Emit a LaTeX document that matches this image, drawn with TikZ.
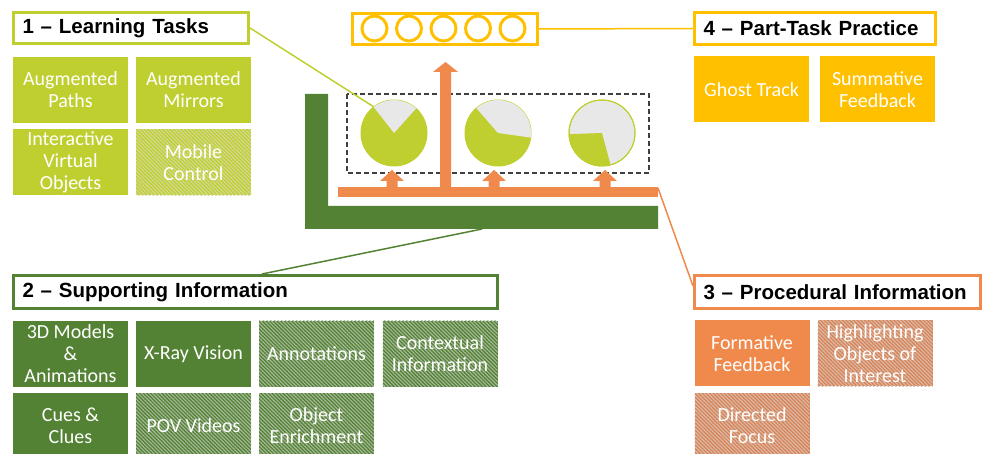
\documentclass[tikz,border=0pt]{standalone}
\usepackage{fontspec}
\setmainfont{Liberation Sans}
\newfontfamily\carlito{Carlito}
\usetikzlibrary{patterns.meta,calc}
\definecolor{cLime}{RGB}{192,207,48}
\definecolor{cDark}{RGB}{84,130,53}
\definecolor{cOrange}{RGB}{240,138,76}
\definecolor{cOrangeH}{RGB}{214,132,88}
\definecolor{cGold}{RGB}{255,192,0}
\definecolor{cGrey}{RGB}{232,232,232}
\definecolor{cDash}{RGB}{64,64,64}
\tikzset{
  box/.style={fill=#1, minimum width=115pt, minimum height=66pt, inner sep=0pt,
    align=center, text=white, font=\carlito\fontsize{20}{22}\selectfont},
  hatchbox/.style={box=#1, postaction={pattern={Lines[angle=-45,distance=2.6pt,line width=1.1pt]},
    pattern color=#1!45!white!93!black}},
  hdr/.style={draw=#1, line width=3pt, fill=white, inner xsep=9pt, inner ysep=0pt,
    align=left, text=black, font=\bfseries\fontsize{20.5}{24}\selectfont},
  link/.style={draw=#1, line width=1.5pt},
  ring/.style={circle, draw=cGold, line width=3pt, minimum size=25pt, inner sep=0pt},
  pie/.style={circle, minimum size=66pt, inner sep=0pt, draw=cLime, line width=1pt},
  oarrow/.style={fill=cOrange},
}
\begin{document}
\begin{tikzpicture}[x=1pt,y=-1pt]
\useasboundingbox (0,0) rectangle (983,454);
\clip (0,0) rectangle (983,454);

% dark green L
\fill[cDark] (305,94) -- (328,94) -- (328,206) -- (658,206) -- (658,229) -- (305,229) -- cycle;
\coordinate (Lb) at (482,229);

% dashed frame
\draw[cDash, line width=1.5pt, dash pattern=on 5pt off 3pt] (347,94) rectangle (649,173);

% pies
\node[pie, fill=cLime] (c1) at (394,133) {};
\fill[cGrey] (c1.center) -- ++(48:33pt) arc[start angle=48, end angle=128, radius=33pt] -- cycle;
\node[pie, fill=cLime] (c2) at (498,133) {};
\fill[cGrey] (c2.center) -- ++(-8:33pt) arc[start angle=-8, end angle=131, radius=33pt] -- cycle;
\node[pie, fill=cGrey] (c3) at (602,133) {};
\fill[cLime] (c3.center) -- ++(182:33pt) arc[start angle=182, end angle=285, radius=33pt] -- cycle;
\draw[cLime, line width=1pt] (c3) circle[radius=33pt];

% orange bar and arrows
\fill[oarrow] (338,187) rectangle (658,197);
\coordinate (Bar) at (658,188);
\fill[oarrow] (440,188) -- (440,72) -- (433,72) -- (445.5,62) -- (458,72) -- (451,72) -- (451,188) -- cycle;
\foreach \ax in {392,494,605}{
  \fill[oarrow] (\ax-5.5,188) -- (\ax-5.5,181) -- (\ax-12,181) -- (\ax,170) -- (\ax+12,181) -- (\ax+5.5,181) -- (\ax+5.5,188) -- cycle;
}

% gold ring box
\node[draw=cGold, line width=3pt, minimum width=185pt, minimum height=31pt, inner sep=0pt] (gbox) at (445,29) {};
\foreach \i/\rx in {1/374.5,2/409,3/443.5,4/478,5/512.5}{
  \node[ring] (r\i) at (\rx,28.5) {};
}

% headers
\node[hdr=cLime, minimum width=235pt, minimum height=31pt, text width=217pt] (h1) at (131,28) {1 -- Learning Tasks};
\node[hdr=cDark, minimum width=484pt, minimum height=33pt, text width=466pt] (h2) at (255.5,292) {2 -- Supporting Information};
\node[hdr=cOrange, minimum width=286pt, minimum height=33pt, text width=268pt] (h3) at (837.5,292) {3 -- Procedural Information};
\node[hdr=cGold, minimum width=241pt, minimum height=32pt, text width=223pt] (h4) at (815,28.5) {4 -- Part-Task Practice};

% connectors
\draw[link=cLime] (h1.east) -- (c1.128);
\draw[link=cDark] (Lb) -- ([xshift=250pt]h2.north west);
\draw[link=cOrange] (Bar) -- ([yshift=6pt]h3.west);
\draw[link=cGold] (gbox.east) -- (h4.west);

% group 1
\node[box=cLime] (b11) at (70.5,90) {Augmented\\Paths};
\node[box=cLime] (b12) at (193.5,90) {Augmented\\Mirrors};
\node[box=cLime] (b13) at (70.5,162.5) {Interactive\\Virtual\\Objects};
\node[hatchbox=cLime] (b14) at (193.5,162.5) {Mobile\\Control};

% group 2
\node[box=cDark] (b21) at (70.5,354) {3D Models\\\&\\Animations};
\node[box=cDark] (b22) at (193.5,354) {X-Ray Vision};
\node[hatchbox=cDark] (b23) at (316.5,354) {Annotations};
\node[hatchbox=cDark] (b24) at (440,354) {Contextual\\Information};
\node[box=cDark] (b25) at (70.5,426) {Cues \&\\Clues};
\node[hatchbox=cDark] (b26) at (193.5,426) {POV Videos};
\node[hatchbox=cDark] (b27) at (316.5,426) {Object\\Enrichment};

% group 3
\node[box=cOrange] (b31) at (752,353.5) {Formative\\Feedback};
\node[hatchbox=cOrangeH] (b32) at (875,353.5) {Highlighting\\Objects of\\Interest};
\node[hatchbox=cOrangeH] (b33) at (752,426) {Directed\\Focus};

% group 4
\node[box=cGold] (b41) at (751.5,89.5) {Ghost Track};
\node[box=cGold] (b42) at (877.5,89.5) {Summative\\Feedback};
\end{tikzpicture}
\end{document}
